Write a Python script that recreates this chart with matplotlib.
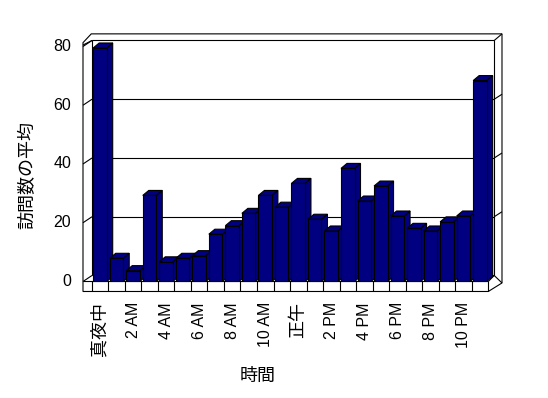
import matplotlib
matplotlib.use('Agg')
import matplotlib.pyplot as plt
from matplotlib.patches import Polygon, Rectangle

# average visits per hour
visits = [79.5, 7.9, 3.7, 29.3, 6.7, 7.9, 8.8, 16.1, 19.0, 23.2, 29.3, 25.3,
          33.4, 21.2, 17.2, 38.5, 27.4, 32.5, 22.3, 18.1, 17.2, 20.3, 22.3, 68.4]
tick_labels = ['真夜中', '2 AM', '4 AM', '6 AM', '8 AM', '10 AM',
               '正午', '2 PM', '4 PM', '6 PM', '8 PM', '10 PM']
y_ticks = [0, 20, 40, 60, 80]
y_title = '訪問数の平均'
x_title = '時間'

FONTS = ['Liberation Sans', 'Noto Sans CJK JP']
NAVY = '#000080'
LW = 0.8

# fake 3d geometry (category / value units)
DX, DY = 0.545, 2.05       # wall depth
BDX, BDY = 0.363, 1.70     # bar depth
BAR_OFF, BAR_W = 0.085, 0.817
n = len(visits)

fig = plt.figure(figsize=(5.48, 3.98), dpi=100)
ax = fig.add_axes([0, 0, 1, 1])
ax.set_xlim(-5.557, 27.615)
ax.set_ylim(-39.66, 95.83)
ax.axis('off')

FL = -0.533            # front-left edge
BL = FL + DX           # back-left edge
BR = n + 0.36          # back-right edge
OR = BR + 0.47         # outer right of wall slab
FLOOR_B = -3.4
TOP_F = 80.5
TOP_B = 80 + DY
TOP_O = 84.3

def line(xs, ys, z=3):
    ax.plot(xs, ys, color='black', lw=LW, zorder=z, solid_capstyle='butt')

# wall slab outline
slab = Polygon([(FL, FLOOR_B), (FL, 81.3), (FL + 0.5, TOP_O), (OR, TOP_O),
                (OR, -0.5), (n, FLOOR_B)], closed=True, facecolor='white',
               edgecolor='black', lw=LW, zorder=1)
ax.add_patch(slab)
# back wall face
ax.add_patch(Rectangle((BL, DY), BR - BL, TOP_B - DY, facecolor='white',
                       edgecolor='black', lw=LW, zorder=2))
# left wall top and corners
line([FL, BL], [TOP_F, TOP_B])
line([BR, OR], [TOP_B, TOP_O])
line([BR, OR], [DY, -0.5])
# floor
line([FL, n], [0, 0])
line([n, BR], [0, DY])
for c in range(n + 1):
    line([c, c], [FLOOR_B, 0])

# gridlines on back wall, wraps on side walls
for g in y_ticks:
    line([FL, BL], [g, g + DY])
    if 0 < g < 80:
        line([BL, BR], [g + DY, g + DY])
        line([BR, OR], [g + DY, g + DY + 1.7])
    ax.text(-1.25, g, str(g), ha='right', va='center', fontsize=11.5,
            family=FONTS)

# bars
bars = ax.bar([i + BAR_OFF for i in range(n)], visits, width=BAR_W,
              align='edge', color=NAVY, edgecolor='black', lw=LW)
for i, (b, v) in enumerate(zip(bars, visits)):
    l = i + BAR_OFF
    r = l + BAR_W
    z = 10 + 3 * i
    side = Polygon([(r, 0), (r, v), (r + BDX, v + BDY), (r + BDX, BDY)],
                   closed=True, facecolor=NAVY, edgecolor='black', lw=LW,
                   zorder=z)
    top = Polygon([(l, v), (r, v), (r + BDX, v + BDY), (l + BDX, v + BDY)],
                  closed=True, facecolor=NAVY, edgecolor='black', lw=LW,
                  zorder=z + 1)
    ax.add_patch(side)
    ax.add_patch(top)
    b.set_zorder(z + 2)

# category labels every two hours
for k, lab in enumerate(tick_labels):
    size = 11.5 if lab.isascii() else 13
    ax.text(2 * k + 0.5, -7.0, lab, rotation=90, ha='center', va='top',
            fontsize=size, family=FONTS)

ax.text(-3.85, 36.3, y_title, rotation=90, ha='center', va='center',
        fontsize=13, family=FONTS)
ax.text(10.06, -32.2, x_title, ha='center', va='center', fontsize=13,
        family=FONTS)

fig.savefig('out.png', dpi=100)
